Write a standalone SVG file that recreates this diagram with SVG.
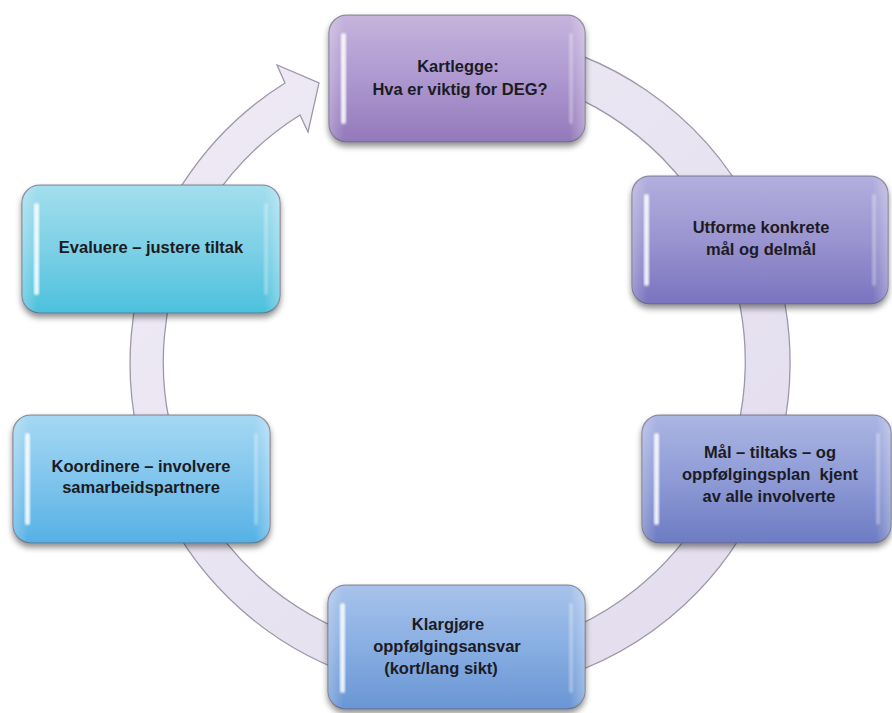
<svg xmlns="http://www.w3.org/2000/svg" width="892" height="713" viewBox="0 0 892 713">
<defs>
<filter id="sh" x="-10%" y="-10%" width="120%" height="130%">
<feGaussianBlur in="SourceAlpha" stdDeviation="3"/>
<feOffset dy="4" result="b"/>
<feComponentTransfer><feFuncA type="linear" slope="0.45"/></feComponentTransfer>
<feMerge><feMergeNode/><feMergeNode in="SourceGraphic"/></feMerge>
</filter>
<filter id="blur1"><feGaussianBlur stdDeviation="1.2"/></filter>
<linearGradient id="ring" x1="0" y1="0" x2="1" y2="1">
<stop offset="0" stop-color="#efebf5"/><stop offset="1" stop-color="#e2dced"/>
</linearGradient>
<linearGradient id="g1" x1="0" y1="0" x2="0" y2="1"><stop offset="0" stop-color="#c6b4dc"/><stop offset="0.5" stop-color="#ae98d0"/><stop offset="1" stop-color="#9379ba"/></linearGradient>
<linearGradient id="g2" x1="0" y1="0" x2="0" y2="1"><stop offset="0" stop-color="#b3afde"/><stop offset="0.5" stop-color="#9a94d0"/><stop offset="1" stop-color="#7a73bf"/></linearGradient>
<linearGradient id="g3" x1="0" y1="0" x2="0" y2="1"><stop offset="0" stop-color="#acb6e3"/><stop offset="0.5" stop-color="#8e9bd6"/><stop offset="1" stop-color="#6d7bc3"/></linearGradient>
<linearGradient id="g4" x1="0" y1="0" x2="0" y2="1"><stop offset="0" stop-color="#a8c3eb"/><stop offset="0.5" stop-color="#88aee2"/><stop offset="1" stop-color="#6996d4"/></linearGradient>
<linearGradient id="g5" x1="0" y1="0" x2="0" y2="1"><stop offset="0" stop-color="#a6d8f3"/><stop offset="0.5" stop-color="#80c5ed"/><stop offset="1" stop-color="#55b1e5"/></linearGradient>
<linearGradient id="g6" x1="0" y1="0" x2="0" y2="1"><stop offset="0" stop-color="#a3deee"/><stop offset="0.5" stop-color="#7dd0e6"/><stop offset="1" stop-color="#4cc1dd"/></linearGradient>
<linearGradient id="edge" x1="0" y1="0" x2="1" y2="0">
<stop offset="0" stop-color="#ffffff" stop-opacity="0.25"/><stop offset="0.06" stop-color="#ffffff" stop-opacity="0"/><stop offset="0.94" stop-color="#ffffff" stop-opacity="0"/><stop offset="1" stop-color="#ffffff" stop-opacity="0.3"/>
</linearGradient>
</defs>
<style>
.box{stroke:#5d5a70;stroke-opacity:0.7;stroke-width:1.2;filter:url(#sh)}
.ov{fill:url(#edge)}
.hl{fill:#ffffff;opacity:0.85;filter:url(#blur1)}
.hr{fill:#ffffff;opacity:0.3;filter:url(#blur1)}
text{font-family:"Liberation Sans",Arial,sans-serif;font-weight:bold;font-size:16.5px;fill:#1c1b24;text-anchor:middle;white-space:pre}
</style>
<rect width="892" height="713" fill="#ffffff"/>
<g id="connectors">
<path d="M513,37 A330,330 0 1 1 285,83 L277,65 L319,83 L308,132 L300,115 A291,291 0 1 0 506.2,75.4 Z" fill="url(#ring)" stroke="#9c98aa" stroke-width="1.3" stroke-linejoin="miter"/>
</g>
<g id="node-kartlegge">
<rect class="box" x="329" y="15" width="256" height="127" rx="18" fill="url(#g1)"/>
<rect class="ov" x="329" y="15" width="256" height="127" rx="18"/>
<rect class="hl" x="341" y="33" width="5" height="91" rx="2.5"/>
<rect class="hr" x="569" y="33" width="4" height="91" rx="2"/>
<text x="458" y="72">Kartlegge:</text>
<text x="460" y="95">Hva er viktig for DEG?</text>
</g>
<g id="node-utforme">
<rect class="box" x="632" y="176" width="256" height="128" rx="18" fill="url(#g2)"/>
<rect class="ov" x="632" y="176" width="256" height="128" rx="18"/>
<rect class="hl" x="644" y="194" width="5" height="92" rx="2.5"/>
<rect class="hr" x="872" y="194" width="4" height="92" rx="2"/>
<text x="761" y="233">Utforme konkrete</text>
<text x="761" y="255">mål og delmål</text>
</g>
<g id="node-maal">
<rect class="box" x="642" y="415" width="249" height="128" rx="18" fill="url(#g3)"/>
<rect class="ov" x="642" y="415" width="249" height="128" rx="18"/>
<rect class="hl" x="654" y="433" width="5" height="92" rx="2.5"/>
<rect class="hr" x="876" y="433" width="4" height="92" rx="2"/>
<text x="770" y="458">Mål – tiltaks – og</text>
<text x="770" y="480">oppfølgingsplan&#160; kjent</text>
<text x="769" y="502">av alle involverte</text>
</g>
<g id="node-klargjore">
<rect class="box" x="328" y="585" width="257" height="124" rx="18" fill="url(#g4)"/>
<rect class="ov" x="328" y="585" width="257" height="124" rx="18"/>
<rect class="hl" x="340" y="603" width="5" height="90" rx="2.5"/>
<rect class="hr" x="569" y="603" width="4" height="90" rx="2"/>
<text x="448" y="630">Klargjøre</text>
<text x="447" y="652">oppfølgingsansvar</text>
<text x="441" y="674">(kort/lang sikt)</text>
</g>
<g id="node-koordinere">
<rect class="box" x="13" y="415" width="257" height="128" rx="18" fill="url(#g5)"/>
<rect class="ov" x="13" y="415" width="257" height="128" rx="18"/>
<rect class="hl" x="25" y="433" width="5" height="92" rx="2.5"/>
<rect class="hr" x="254" y="433" width="4" height="92" rx="2"/>
<text x="141" y="472">Koordinere – involvere</text>
<text x="141" y="493">samarbeidspartnere</text>
</g>
<g id="node-evaluere">
<rect class="box" x="22" y="185" width="258" height="128" rx="18" fill="url(#g6)"/>
<rect class="ov" x="22" y="185" width="258" height="128" rx="18"/>
<rect class="hl" x="34" y="203" width="5" height="92" rx="2.5"/>
<rect class="hr" x="264" y="203" width="4" height="92" rx="2"/>
<text x="151" y="253">Evaluere – justere tiltak</text>
</g>
</svg>
